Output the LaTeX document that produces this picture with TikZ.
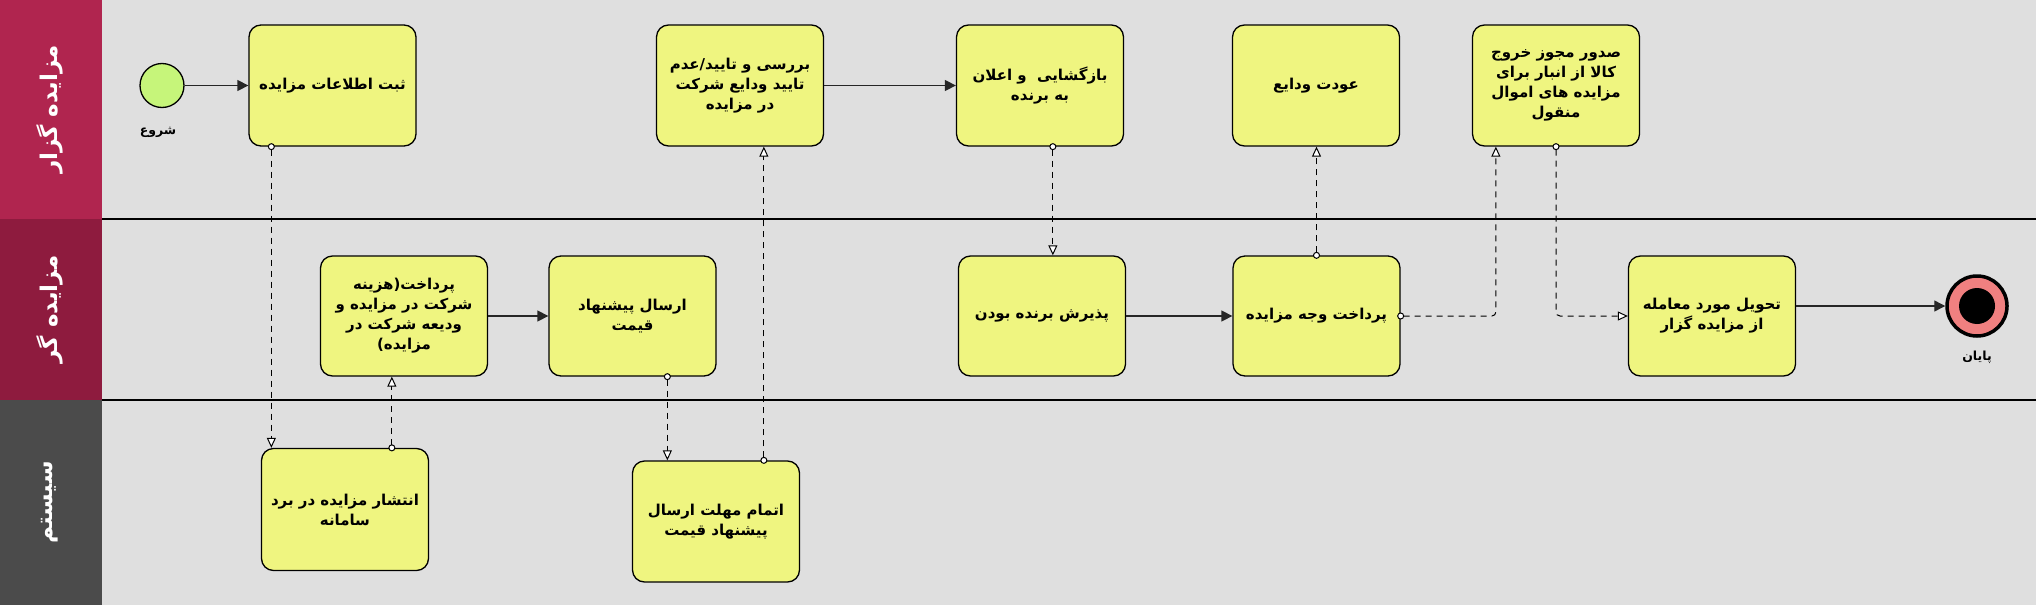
\documentclass[tikz,border=0pt]{standalone}
\usepackage{fontspec}
\usetikzlibrary{arrows.meta}
\TeXXeTstate=1
\newfontfamily\fab[Script=Arabic]{DejaVu Sans}
\newcommand\rtltext[1]{\beginR #1\endR}
\definecolor{bgc}{HTML}{DFDFDF}
\definecolor{hone}{HTML}{B0254F}
\definecolor{htwo}{HTML}{8E1B3E}
\definecolor{hthree}{HTML}{4B4B4B}
\definecolor{boxy}{HTML}{EFF580}
\definecolor{startg}{HTML}{C6F57A}
\definecolor{endred}{HTML}{F08080}
\begin{document}
\begin{tikzpicture}[x=1pt,y=-1pt,
  task/.style={draw=black, line width=1.3pt, fill=boxy, rounded corners=12pt,
    minimum width=167pt, minimum height=121pt, align=center, inner sep=2pt,
    font=\fab\bfseries\fontsize{15}{20}\selectfont},
  lanetxt/.style={rotate=90, text=white, font=\fab\bfseries\fontsize{23}{28}\selectfont},
  lbl/.style={font=\fab\bfseries\fontsize{12.5}{14}\selectfont},
  flow/.style={draw=black!85, line width=1.3pt, -{Triangle[length=11pt,width=11pt]}},
  msg/.style={draw=black, line width=1pt, dash pattern=on 6pt off 5pt, rounded corners=4pt,
    {Circle[open,fill=white,length=7pt,width=7pt,line width=1pt]}-{Triangle[open,fill=white,length=10pt,width=9pt,line width=1pt]},
    shorten <=-3.5pt}
]
\useasboundingbox (0,0) rectangle (2036,605);
\fill[bgc] (0,0) rectangle (2036,605);
\fill[hone] (0,0) rectangle (102,219);
\fill[htwo] (0,219) rectangle (102,400);
\fill[hthree] (0,400) rectangle (102,605);
\draw[line width=1.3pt] (102,219) -- (2036,219);
\draw[line width=1.3pt] (102,400) -- (2036,400);

\node[lanetxt] (l1) at (50,109.5) {\rtltext{مزایده گزار}};
\node[lanetxt] (l2) at (50,309.5) {\rtltext{مزایده گر}};
\node[lanetxt] (l3) at (50,502.5) {\rtltext{سیستم}};

% start / end
\node[circle, draw=black, line width=1.3pt, fill=startg, minimum size=44pt, inner sep=0pt] (start) at (162,85.5) {};
\node[lbl] (startlbl) at (158,132) {\rtltext{شروع}};
\node[circle, draw=black, line width=3.5pt, fill=endred, minimum size=60pt, inner sep=0pt] (endev) at (1977,306) {};
\node[circle, fill=black, minimum size=36pt, inner sep=0pt] (endin) at (endev.center) {};
\node[lbl] (endlbl) at (1977,357) {\rtltext{پایان}};

% top lane
\node[task] (b1) at (332.5,85.5) {\rtltext{ثبت اطلاعات مزایده}};
\node[task] (b2) at (740,85.5) {\rtltext{بررسی و تایید/عدم}\\\rtltext{تایید ودایع شرکت}\\\rtltext{در مزایده}};
\node[task] (b3) at (1040,85.5) {\rtltext{بازگشایی~ و اعلان}\\\rtltext{به برنده}};
\node[task] (b4) at (1316,85.5) {\rtltext{عودت ودایع}};
\node[task] (b5) at (1556,85.5) {\rtltext{صدور مجوز خروج}\\\rtltext{کالا از انبار برای}\\\rtltext{مزایده های اموال}\\\rtltext{منقول}};

% middle lane
\node[task, minimum height=120pt] (b6) at (404,316) {\rtltext{پرداخت(هزینه}\\\rtltext{شرکت در مزایده و}\\\rtltext{ودیعه شرکت در}\\\rtltext{مزایده)}};
\node[task, minimum height=120pt] (b7) at (632.5,316) {\rtltext{ارسال پیشنهاد}\\\rtltext{قیمت}};
\node[task, minimum height=120pt] (b8) at (1042,316) {\rtltext{پذیرش برنده بودن}};
\node[task, minimum height=120pt] (b9) at (1316.5,316) {\rtltext{پرداخت وجه مزایده}};
\node[task, minimum height=120pt] (b10) at (1712,316) {\rtltext{تحویل مورد معامله}\\\rtltext{از مزایده گزار}};

% bottom lane
\node[task, minimum height=122pt] (b11) at (345,509.5) {\rtltext{انتشار مزایده در برد}\\\rtltext{سامانه}};
\node[task] (b12) at (716,521.5) {\rtltext{اتمام مهلت ارسال}\\\rtltext{پیشنهاد قیمت}};

% sequence flows
\draw[flow] (start.east) -- (b1.west);
\draw[flow] (b2.east) -- (b3.west);
\draw[flow] (b6.east) -- (b7.west);
\draw[flow] (b8.east) -- (b9.west);
\draw[flow] (b10.east |- endev) -- (endev.west);

% message flows
\draw[msg] ([xshift=23pt]b1.south west) -- ([xshift=23pt]b1.south west |- b11.north);
\draw[msg] ([xshift=131pt]b11.north west) -- ([xshift=131pt]b11.north west |- b6.south);
\draw[msg] ([xshift=119pt]b7.south west) -- ([xshift=119pt]b7.south west |- b12.north);
\draw[msg] ([xshift=132pt]b12.north west) -- ([xshift=132pt]b12.north west |- b2.south);
\draw[msg] ([xshift=97pt]b3.south west) -- ([xshift=97pt]b3.south west |- b8.north);
\draw[msg] (b9.north) -- (b9.north |- b4.south);
\draw[msg] (b9.east) -| ([xshift=24pt]b5.south west);
\draw[msg] (b5.south) |- (b10.west);
\end{tikzpicture}
\end{document}
